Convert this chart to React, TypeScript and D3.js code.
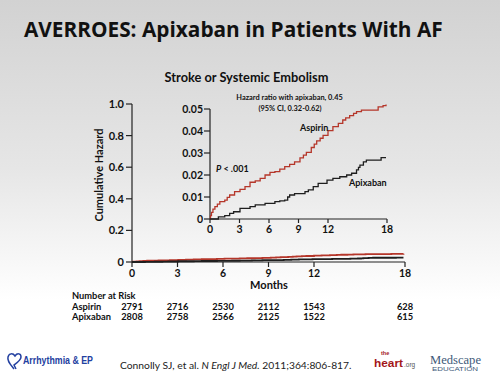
import React from "react";
import * as d3 from "d3";

const months = [0, 3, 6, 9, 12, 18];
const aspirinRisk = [2791, 2716, 2530, 2112, 1543, 628];
const apixabanRisk = [2808, 2758, 2566, 2125, 1522, 615];
const mainYTicks = [0, 0.2, 0.4, 0.6, 0.8, 1.0];
const insetYTicks = [0, 0.01, 0.02, 0.03, 0.04, 0.05];

const aspirinMonths = [0, 0.05, 0.15, 0.3, 0.5, 0.75, 1.0, 1.5, 1.75, 2.0, 2.5, 3.05, 3.56, 4.07, 4.6, 5.1, 5.6, 6.1, 6.6, 7.1, 7.6, 8.1, 8.6, 9.15, 9.5, 9.8, 10.3, 10.6, 10.85, 11.2, 11.5, 12.0, 12.5, 13.05, 13.5, 13.8, 14.2, 14.6, 14.9, 15.4, 17.1, 17.6, 17.9];
const aspirinHazard = [0, 0.0015, 0.003, 0.0045, 0.0056, 0.0068, 0.0079, 0.0086, 0.0098, 0.0109, 0.0124, 0.0135, 0.0147, 0.0167, 0.0173, 0.0185, 0.02, 0.0212, 0.0215, 0.0227, 0.0238, 0.0248, 0.026, 0.0278, 0.029, 0.0303, 0.0325, 0.034, 0.0355, 0.0367, 0.038, 0.0402, 0.042, 0.0435, 0.045, 0.046, 0.047, 0.048, 0.0488, 0.0495, 0.051, 0.0515, 0.052];

const apixabanMonths = [0, 0.8, 0.85, 1.5, 2.0, 2.4, 3.05, 4.07, 4.6, 5.6, 6.6, 7.1, 7.6, 7.9, 8.1, 8.6, 9.66, 10.0, 10.5, 11.0, 11.9, 12.5, 13.2, 13.9, 14.4, 14.9, 15.1, 15.25, 15.6, 15.9, 17.4, 17.9];
const apixabanHazard = [0, 0, 0.001, 0.0015, 0.0026, 0.0033, 0.0048, 0.0056, 0.0064, 0.0071, 0.0079, 0.0082, 0.0086, 0.01, 0.0109, 0.0115, 0.0124, 0.0132, 0.0147, 0.0162, 0.0177, 0.0185, 0.0192, 0.02, 0.0208, 0.0223, 0.0235, 0.0245, 0.026, 0.0268, 0.0279, 0.0279];

const RED = "#b5362a";
const BLK = "#1e1e1e";
const FONT = "Lato, 'Open Sans', sans-serif";

export default function App() {
  const aspirin: [number, number][] = aspirinMonths.map((m, i) => [m, aspirinHazard[i]]);
  const apixaban: [number, number][] = apixabanMonths.map((m, i) => [m, apixabanHazard[i]]);

  // main chart
  const x = d3.scaleLinear().domain([0, 18]).range([132, 405]);
  const y = d3.scaleLinear().domain([0, 1]).range([262, 104]);
  // inset
  const xi = d3.scaleLinear().domain([0, 18]).range([210, 387]);
  const yi = d3.scaleLinear().domain([0, 0.05]).range([219, 109]);

  const lineMain = d3.line<[number, number]>().x(d => x(d[0])).y(d => y(d[1])).curve(d3.curveStepAfter);
  const lineInset = d3.line<[number, number]>().x(d => xi(d[0])).y(d => yi(d[1])).curve(d3.curveStepAfter);

  return (
    <svg width={500} height={375} style={{ position: "absolute", left: 0, top: 0 }} fontFamily={FONT}>
      <defs>
        <linearGradient id="bg" x1="0" y1="0" x2="0" y2="1">
          <stop offset="0" stopColor="#d2d2d2" />
          <stop offset="0.45" stopColor="#e6e6e6" />
          <stop offset="0.8" stopColor="#ffffff" />
          <stop offset="1" stopColor="#ffffff" />
        </linearGradient>
      </defs>
      <rect width={500} height={375} fill="url(#bg)" />

      <text x={24} y={37} fontSize={20.8} fontWeight={700} fill="#111" fontFamily="'Open Sans', sans-serif">AVERROES: Apixaban in Patients With AF</text>
      <text x={246.5} y={82} fontSize={12.8} fontWeight={700} textAnchor="middle" fill="#111">Stroke or Systemic Embolism</text>

      {/* main axes */}
      <g fill="#111" fontWeight={700}>
        <line x1={132} x2={132} y1={y(1)} y2={y(0)} stroke="#222" strokeWidth={1.2} />
        <line x1={x(0)} x2={x(18)} y1={262} y2={262} stroke="#222" strokeWidth={1.2} />
        {mainYTicks.map(t => (
          <g key={"my" + t}>
            <line x1={126} x2={132} y1={y(t)} y2={y(t)} stroke="#222" strokeWidth={1.2} />
            <text x={124} y={y(t)} dy="0.36em" fontSize={11} textAnchor="end">{t === 0 ? "0" : t.toFixed(1)}</text>
          </g>
        ))}
        {months.map(m => (
          <g key={"mx" + m}>
            <line x1={x(m)} x2={x(m)} y1={262} y2={267} stroke="#222" strokeWidth={1.2} />
            <text x={x(m)} y={276.5} fontSize={10.5} textAnchor="middle">{m}</text>
          </g>
        ))}
        <text x={269} y={289} fontSize={11} textAnchor="middle">Months</text>
        <text transform="translate(103,175) rotate(-90)" fontSize={11} textAnchor="middle">Cumulative Hazard</text>
      </g>
      <path d={lineMain(aspirin) || ""} fill="none" stroke={RED} strokeWidth={1.8} />
      <path d={lineMain(apixaban) || ""} fill="none" stroke={BLK} strokeWidth={1.8} />

      {/* inset */}
      <g fill="#111" fontWeight={700}>
        <line x1={210} x2={210} y1={yi(0.05)} y2={yi(0)} stroke="#222" strokeWidth={1.2} />
        <line x1={xi(0)} x2={xi(18)} y1={219} y2={219} stroke="#222" strokeWidth={1.2} />
        {insetYTicks.map(t => (
          <g key={"iy" + t}>
            <line x1={204} x2={210} y1={yi(t)} y2={yi(t)} stroke="#222" strokeWidth={1.2} />
            <text x={203} y={yi(t)} dy="0.36em" fontSize={10.5} textAnchor="end">{t === 0 ? "0" : t.toFixed(2)}</text>
          </g>
        ))}
        {months.map(m => (
          <g key={"ix" + m}>
            <line x1={xi(m)} x2={xi(m)} y1={219} y2={223} stroke="#222" strokeWidth={1.2} />
            <text x={xi(m)} y={233} fontSize={10.5} textAnchor="middle">{m}</text>
          </g>
        ))}
      </g>
      <path d={lineInset(aspirin) || ""} fill="none" stroke={RED} strokeWidth={1.3} />
      <path d={lineInset(apixaban) || ""} fill="none" stroke={BLK} strokeWidth={1.3} />

      <g fill="#111" fontWeight={700} fontSize={7.4}>
        <text x={289.5} y={99.5} textAnchor="middle">Hazard ratio with apixaban, 0.45</text>
        <text x={290} y={110.5} textAnchor="middle">(95% CI, 0.32-0.62)</text>
        <text x={300} y={131} fontSize={9}>Aspirin</text>
        <text x={349} y={186} fontSize={9}>Apixaban</text>
        <text x={216} y={172} fontSize={9}><tspan fontStyle="italic">P</tspan> &lt; .001</text>
      </g>

      {/* number at risk */}
      <g fill="#111" fontWeight={700} fontSize={9.3}>
        <text x={72} y={299}>Number at Risk</text>
        <text x={72} y={310}>Aspirin</text>
        <text x={72} y={320}>Apixaban</text>
        {months.map((m, i) => (
          <g key={"r" + m}>
            <text x={x(m)} y={310} textAnchor="middle">{aspirinRisk[i]}</text>
            <text x={x(m)} y={320} textAnchor="middle">{apixabanRisk[i]}</text>
          </g>
        ))}
      </g>

      {/* footer */}
      <text x={120} y={369} fontSize={10.3} fill="#222">
        Connolly SJ, et al. <tspan fontStyle="italic">N Engl J Med.</tspan> 2011;364:806-817.
      </text>
      <g>
        <path d="M14,369 C10,364 7,361 8,357 C9,353 13,353 15,356 C17,353 21,353 21,357 C21,360 18,362 14,365 L16,369" fill="none" stroke="#2340a0" strokeWidth={1.5} />
        <text x={23} y={364} fontSize={11} fontWeight={700} fill="#2340a0" fontFamily="'Liberation Sans Narrow', 'Liberation Sans', sans-serif" textLength={70} lengthAdjust="spacingAndGlyphs">Arrhythmia &amp; EP</text>
      </g>
      <g fill="#a3161a" fontFamily="'Liberation Sans', Arial, sans-serif" fontWeight={700}>
        <text x={381} y={354.5} fontSize={5.5}>the</text>
        <text x={374} y={367} fontSize={11.5} textLength={29} lengthAdjust="spacingAndGlyphs">heart</text>
        <text x={404} y={367} fontSize={6.5} fill="#555" fontWeight={400}>.org</text>
      </g>
      <g fill="#3d5878" fontFamily="'Liberation Serif', 'DejaVu Serif', serif">
        <text x={430} y={364} fontSize={13} textLength={51} lengthAdjust="spacingAndGlyphs">Medscape</text>
        <text x={432} y={371} fontSize={4.5} textLength={46} lengthAdjust="spacingAndGlyphs" fontFamily="'Liberation Sans', sans-serif">EDUCATION</text>
      </g>
    </svg>
  );
}
